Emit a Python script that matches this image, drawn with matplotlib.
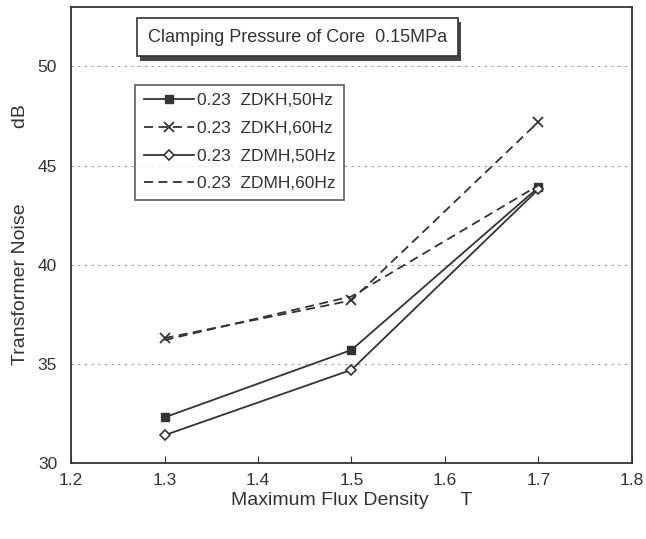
import matplotlib
matplotlib.use('Agg')
import matplotlib.pyplot as plt
import matplotlib.patheffects as pe
import numpy as np

# data
flux = [1.3, 1.5, 1.7]
zdkh_50 = [32.3, 35.7, 43.9]
zdkh_60 = [36.3, 38.2, 47.2]
zdmh_50 = [31.4, 34.7, 43.8]
zdmh_60 = [36.2, 38.4, 44.0]

x_ticks = [1.2, 1.3, 1.4, 1.5, 1.6, 1.7, 1.8]
y_ticks = [30, 35, 40, 45, 50]

ink = '#333333'

plt.rcParams['font.family'] = ['Liberation Sans', 'DejaVu Sans']

fig = plt.figure(figsize = (6.46, 5.39), dpi = 100)
ax = fig.add_axes([0.110, 0.141, 0.868, 0.846])

# series
ax.plot(flux, zdkh_50, color = ink, linestyle = '-', linewidth = 1.3,
        marker = 's', markersize = 6, markerfacecolor = ink, label = '0.23  ZDKH,50Hz')
ax.plot(flux, zdkh_60, color = ink, linestyle = (0, (5, 3)), linewidth = 1.3,
        marker = 'x', markersize = 7, markeredgewidth = 1.3, label = '0.23  ZDKH,60Hz')
ax.plot(flux, zdmh_50, color = ink, linestyle = '-', linewidth = 1.3,
        marker = 'D', markersize = 5, markerfacecolor = 'white', markeredgewidth = 1.2,
        label = '0.23  ZDMH,50Hz')
ax.plot(flux, zdmh_60, color = ink, linestyle = (0, (5, 3)), linewidth = 1.3,
        label = '0.23  ZDMH,60Hz')

ax.set_xlim(1.2, 1.8)
ax.set_ylim(30, 53)
ax.set_xticks(x_ticks)
ax.set_xticklabels([f'{t:.1f}' for t in x_ticks])
ax.set_yticks(y_ticks)

ax.grid(axis = 'y', color = '#999999', linestyle = (0, (2, 4)), linewidth = 0.8)
ax.tick_params(axis = 'x', direction = 'in', length = 5, colors = ink, labelsize = 12.5, pad = 7)
ax.tick_params(axis = 'y', length = 0, colors = ink, labelsize = 12.5, pad = 10)
for side in ax.spines.values():
	side.set_color(ink)
	side.set_linewidth(1.3)

ax.set_xlabel('Maximum Flux Density      T', fontsize = 14, color = ink, labelpad = 3)
ax.set_ylabel('Transformer Noise              dB', fontsize = 14, color = ink, labelpad = 6)

# title box with shadow
title = ax.text(0.137, 0.934, 'Clamping Pressure of Core  0.15MPa', transform = ax.transAxes,
                fontsize = 13, color = ink, va = 'center', ha = 'left',
                bbox = dict(boxstyle = 'square,pad=0.6', facecolor = 'white',
                            edgecolor = ink, linewidth = 1.2))
title.get_bbox_patch().set_path_effects([pe.SimplePatchShadow(offset = (2, -3), shadow_rgbFace = '#333333', alpha = 0.9), pe.Normal()])

legend = ax.legend(loc = 'upper left', bbox_to_anchor = (0.114, 0.83), fontsize = 12.5,
                   frameon = True, fancybox = False, handlelength = 2.9, handletextpad = 0.15,
                   borderpad = 0.5, labelspacing = 0.72, borderaxespad = 0)
legend.get_frame().set_edgecolor(ink)
legend.get_frame().set_linewidth(1.2)
for text in legend.get_texts():
	text.set_color(ink)

fig.savefig('out.png', dpi = 100)
